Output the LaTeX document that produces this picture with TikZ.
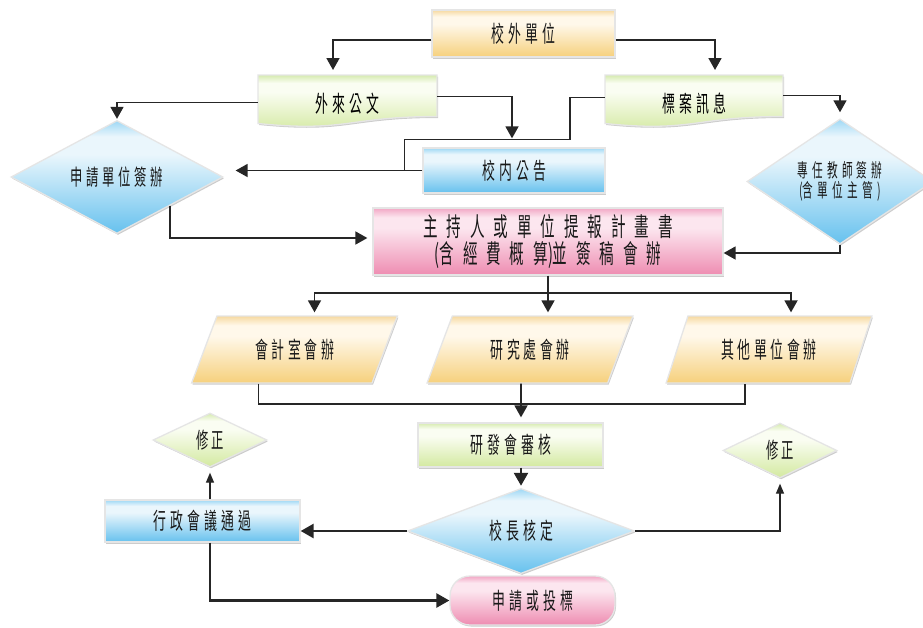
\documentclass[tikz,border=0pt]{standalone}
\usepackage{fontspec}
\newfontfamily\cjk[FakeStretch=0.56]{Noto Sans CJK TC}
\usetikzlibrary{shapes.geometric,arrows.meta,calc,shadows,backgrounds}
\def\spend{\spend}
\def\spaced#1#2{\def\spgap{\hskip#1pt\relax}\sploop#2\spend}
\def\sploop#1#2\spend{#1\if\relax\detokenize{#2}\relax\else\spgap\sploop#2\spend\fi}
\definecolor{oT}{HTML}{F6D9A0}\definecolor{oW}{HTML}{FFF8EA}\definecolor{oB}{HTML}{F6D07C}
\definecolor{gT}{HTML}{D6EBB0}\definecolor{gW}{HTML}{FAFDF2}\definecolor{gB}{HTML}{D3E9A0}
\definecolor{bT}{HTML}{9ED8F5}\definecolor{bW}{HTML}{EAF6FC}\definecolor{bB}{HTML}{66C1EE}
\definecolor{pT}{HTML}{F2A7C5}\definecolor{pW}{HTML}{FCE6EF}\definecolor{pB}{HTML}{EE8CB1}
\pgfdeclareverticalshading{shorange}{100bp}{color(0bp)=(oB); color(25bp)=(oB); color(60bp)=(oW); color(68bp)=(oW); color(75bp)=(oT); color(100bp)=(oT)}
\pgfdeclareverticalshading{shgreen}{100bp}{color(0bp)=(gB); color(25bp)=(gB); color(60bp)=(gW); color(68bp)=(gW); color(75bp)=(gT); color(100bp)=(gT)}
\pgfdeclareverticalshading{shblue}{100bp}{color(0bp)=(bB); color(25bp)=(bB); color(60bp)=(bW); color(68bp)=(bW); color(75bp)=(bT); color(100bp)=(bT)}
\pgfdeclareverticalshading{shpink}{100bp}{color(0bp)=(pB); color(25bp)=(pB); color(60bp)=(pW); color(68bp)=(pW); color(75bp)=(pT); color(100bp)=(pT)}
\tikzset{
 box/.style={draw=black!10, line width=1.3pt, inner sep=0pt, text=black!90,
   drop shadow={shadow xshift=1pt,shadow yshift=-1.5pt,opacity=0.2,fill=black}},
 oS/.style={shade, shading=shorange}, gS/.style={shade, shading=shgreen},
 bS/.style={shade, shading=shblue}, pS/.style={shade, shading=shpink},
 dia/.style={box, shape=diamond},
 para/.style={box, shape=trapezium, trapezium left angle=59, trapezium right angle=121,
   trapezium stretches=true, minimum width=206pt, minimum height=67pt},
 txt/.style={font=\cjk\fontsize{#1pt}{#1pt}\selectfont},
 lin/.style={draw=black!85, line width=1.7pt},
 arr/.style={lin, -{Triangle[width=13pt,length=12pt]}},
 arrb/.style={draw=black!85, line width=2.6pt, -{Triangle[width=14pt,length=13pt]}},
 arrs/.style={draw=black!85, line width=1.3pt, -{Triangle[width=8pt,length=10pt]}},
}
\begin{document}
\begin{tikzpicture}[x=1pt,y=-1pt]
\useasboundingbox (0,0) rectangle (923,627);
% nodes
\node[box,oS,minimum width=183pt,minimum height=47pt,txt=23] (A) at (523.5,33.5) {\spaced{4.1}{校外單位}};
\node[inner sep=0pt,minimum width=179pt,minimum height=40pt,txt=23] (B) at (347.5,104) {\spaced{4.1}{外來公文}};
\node[inner sep=0pt,minimum width=178pt,minimum height=40pt,txt=23] (C) at (694,104) {\spaced{4.1}{標案訊息}};
\node[box,bS,minimum width=182pt,minimum height=45pt,txt=23] (D) at (514,170.5) {\spaced{4.1}{校内公告}};
\node[dia,bS,minimum width=212pt,minimum height=95pt,txt=22] (E) at (117,177) {\spaced{3.7}{申請單位簽辦}};
\node[dia,bS,minimum width=186pt,minimum height=97pt,txt=19,align=center] (F) at (840,181.5) {\spaced{4.2}{專任教師簽辦}\\[1.5pt]\spaced{4.2}{{(含}單位主{管)}}};
\node[box,pS,minimum width=350pt,minimum height=67pt,txt=26,align=center] (G) at (548,241.5) {\spaced{8.9}{主持人或單位提報計畫書}\\[1pt]\spaced{8.9}{{(含}經費概{算)並}簽稿會辦}};
\node[para,oS,txt=23] (P1) at (294.5,349.5) {\spaced{3.6}{會計室會辦}};
\node[para,oS,txt=23] (P2) at (530,349.5) {\spaced{3.6}{研究處會辦}};
\node[para,oS,txt=23] (P3) at (769,349.5) {\spaced{3.6}{其他單位會辦}};
\node[box,gS,minimum width=185pt,minimum height=44pt,txt=23] (H) at (510.5,445) {\spaced{4.1}{研發會審核}};
\node[dia,bS,minimum width=227pt,minimum height=72pt,txt=23] (I) at (521,531) {\spaced{4.1}{校長核定}};
\node[box,bS,minimum width=195pt,minimum height=42pt,txt=23] (J) at (202.5,521) {\spaced{4.1}{行政會議通過}};
\node[dia,gS,minimum width=114pt,minimum height=54pt,txt=22] (K) at (210,440) {\spaced{2.7}{修正}};
\node[dia,gS,minimum width=114pt,minimum height=55pt,txt=22] (L) at (780,450.5) {\spaced{2.7}{修正}};
\node[box,pS,rounded corners=20pt,minimum width=165pt,minimum height=49pt,txt=23] (M) at (532.5,600.5) {\spaced{4.1}{申請或投標}};
% document shapes behind their texts
\begin{scope}[on background layer]
\fill[white] (0,0) rectangle (923,627);
\path[box,gS] ($(B.center)+(-89.5,-29)$) -- ($(B.center)+(89.5,-29)$) -- ($(B.center)+(89.5,12.5)$)
  .. controls ($(B.center)+(0,12.5)$) and ($(B.center)+(0,28.5)$) .. ($(B.center)+(-89.5,19.5)$) -- cycle;
\path[box,gS] ($(C.center)+(-89,-29)$) -- ($(C.center)+(89,-29)$) -- ($(C.center)+(89,12.5)$)
  .. controls ($(C.center)+(0,12.5)$) and ($(C.center)+(0,28.5)$) .. ($(C.center)+(-89,19.5)$) -- cycle;
\end{scope}
% connectors
\draw[arr] ([yshift=-6.5pt]A.west) -| ($(B.center)+(-14.5,-34)$);
\draw[arr] ([yshift=-6.5pt]A.east) -| ($(C.center)+(21,-34)$);
\draw[arr] ([yshift=1.5pt]B.west) -| ([yshift=1pt]E.north);
\draw[arr] ([yshift=7.5pt]B.east) -| ([xshift=-2pt,yshift=9pt]D.north);
\coordinate (j1) at ($(D.west)+(-18,0)$);
\draw[lin] ([yshift=6.5pt]C.west) -- ++(-35,0) |- ($(j1)+(0,-31)$) -- (j1);
\draw[arr,shorten >=12pt] (D.west) -- (D.west -| E.east);
\draw[arr] ([yshift=8.5pt]C.east) -| ([yshift=6pt]F.north);
\draw[arr,shorten >=5pt] (E.south east) |- ([yshift=3.5pt]G.west);
\draw[arr] (F.south) |- ([yshift=-11.5pt]G.east);
\draw[lin] (G.south) -- ++(0,17) coordinate (br);
\draw[arr,shorten >=3pt] (br) -| ([xshift=20pt]P1.north);
\draw[arr,shorten >=3pt] (br) -| ([xshift=22pt]P3.north);
\draw[arr,shorten >=3pt] (br) -- (br |- P2.north);
\draw[lin] ([xshift=-36pt]P1.south) -- ++(0,20) -| ([xshift=-24pt]P3.south);
\draw[arr] ([xshift=-9pt]P2.south) -- ([xshift=10.5pt,yshift=5pt]H.north);
\draw[arrb] ([xshift=10.5pt]H.south) -- ([yshift=2pt]I.north);
\draw[arrb] (I.west) -- (I.west -| J.east);
\draw[arrs,shorten >=5pt] (K.south |- J.north) -- (K.south);
\draw[arrb] (K.south |- J.south) |- (M.west);
\draw[arrs,shorten >=5pt] (I.east) -| (L.south);
\end{tikzpicture}
\end{document}
